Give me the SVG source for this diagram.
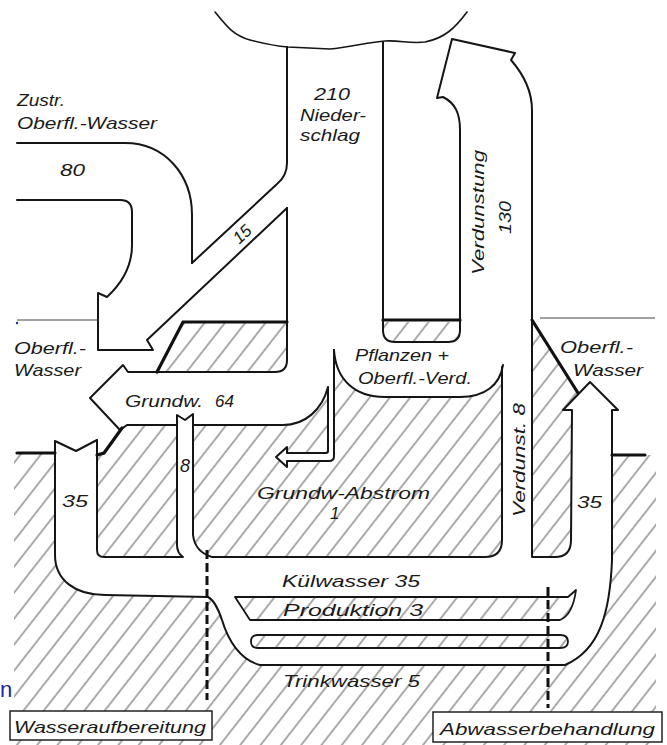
<svg xmlns="http://www.w3.org/2000/svg" width="667" height="745" viewBox="0 0 667 745">
<defs>
<pattern id="hatch" patternUnits="userSpaceOnUse" width="16" height="16" patternTransform="rotate(38)">
<line x1="8" y1="0" x2="8" y2="16" stroke="#555" stroke-width="1"/>
</pattern>
<style>
.o{fill:none;stroke:#151515;stroke-width:2;stroke-linejoin:round;stroke-linecap:round}
.thick{fill:none;stroke:#111;stroke-width:3.2;stroke-linecap:round}
.thin{fill:none;stroke:#444;stroke-width:1.1}
.w{fill:#fff;stroke:none}
.h{fill:url(#hatch)}
.dash{fill:none;stroke:#111;stroke-width:3;stroke-dasharray:9 4}
.t{font-family:"Liberation Sans",Arial,sans-serif;font-style:italic;font-size:17px;fill:#1a1a1a}
</style>
</defs>
<rect width="667" height="745" fill="#fff"/>

<g id="ground">
<path class="h" d="M14,453 L97,455 L104,453 L112,442 L122,428 L157,372 L183,322 L460,322 L532,320 L578,393 L590,382 L618,410 L612,410 L612,455 L656,455 L656,745 L14,745 Z"/>
</g>

<g id="flow-fills">
<path class="w" d="M287,300 L383,300 L383,330 Q383,342 395,342 L448,342 Q460,342 460,330 L460,300 L532,300 L532,557 L502,557 L502,367 C500,385 485,397 460,397 L385,397 C355,397 336,380 334,350 L334,387 L328,387 C322,410 305,425 283,425 L127,425 L120,430 L90,398 L123,365 L128,372 L275,372 Q287,372 287,360 Z"/>
<path class="w" d="M328,387 L334,387 L334,456 Q334,461 329,461 L287,461 L287,467 L276,457 L287,447 L287,453 L326,453 Q328,453 328,451 Z"/>
<path class="w" d="M177,415 L185,420 L193,414 L193,535 Q195,552 212,557 L183,557 Q177,553 177,545 Z"/>
<path class="w" d="M55,441 L76,451 L97,440 L97,550 Q97,557 104,557 L555,557 Q571,557 571,540 L572,410 L563,410 L590,382 L618,410 L612,410 L612,560 C610,612 600,650 565,665 L260,665 C240,660 228,640 222,620 C218,608 214,600 208,597 L105,595 C75,595 55,580 55,555 Z"/>
<path class="h" d="M235,597 L568,597 L576,590 C574,605 570,616 560,620 L250,620 Z"/>
<path class="h" d="M258,635 L560,635 Q568,635 568,641.5 Q568,648 560,648 L258,648 Q251,648 251,641.5 Q251,635 258,635 Z"/>
</g>

<g id="cloud">
<path class="o" style="stroke-width:1.6" d="M215,12 C225,24 232,35 250,40 C265,44 275,46 288,47 L330,49 C350,47 370,42 385,41 C400,40 410,44 425,42 C445,38 455,28 467,12"/>
</g>

<g id="flows">
<path class="o" d="M287,47 L287,163 Q287,176 277,184 L192,263"/>
<path class="o" d="M17,143 L125,143 C165,143 192,175 192,215 L192,263"/>
<path class="o" d="M17,200 L120,200 Q132,200 132,212 L132,245 C132,268 120,285 107,297 L98,293 L98,350 L153,350 L147,340 L287,208"/>
<path class="o" d="M287,208 L287,360 Q287,372 275,372 L128,372 L123,365 L90,398 L120,430 L127,425 L177,425"/>
<path class="o" d="M97,440 L97,550 Q97,557 104,557 L183,557 Q177,553 177,545 L177,415 L185,420 L193,414 L193,535 Q195,552 212,557 L485,557 Q502,557 502,540 L502,367"/>
<path class="o" d="M193,425 L283,425 C305,425 322,410 328,387 L328,451 Q328,453 326,453 L287,453 L287,447 L276,457 L287,467 L287,461 L329,461 Q334,461 334,456 L334,350"/>
<path class="o" d="M334,350 C336,380 355,397 385,397 L460,397 C485,397 500,385 503,365"/>
<path class="o" d="M383,42 L383,330 Q383,342 395,342 L448,342 Q460,342 460,330 L460,130 C460,113 455,103 443,97 L437,98 L452,39 L515,53 L511,60 C524,75 532,92 532,110 L532,557 L555,557 Q571,557 571,540 L572,410 L563,410 L590,382 L618,410 L612,410 L612,560 C610,612 600,650 565,665 L260,665 C240,660 228,640 222,620 C218,608 214,600 208,597 L105,595 C75,595 55,580 55,555 L55,441 L76,451 L97,440"/>
<path class="o" style="stroke-width:1.8" d="M235,597 L568,597 L576,590 C574,605 570,616 560,620 L250,620 Z"/>
<path class="o" style="stroke-width:1.8" d="M258,635 L560,635 Q568,635 568,641.5 Q568,648 560,648 L258,648 Q251,648 251,641.5 Q251,635 258,635 Z"/>
<path class="thick" d="M383,320 L460,320"/>
<path class="thick" d="M157,372 L183,322 L287,322"/>
<path class="thick" d="M532,320 L578,393"/>
<path class="thick" d="M17,453 L55,453"/>
<path class="thick" d="M97,455 L104,453 L112,442 L122,428"/>
<path class="thick" d="M612,455 L645,455"/>
<path class="thin" d="M17,320 L98,320"/>
<path class="thin" d="M540,318 L655,318"/>
</g>

<g id="connectors">
<path class="dash" d="M207,550 L207,700"/>
<path class="dash" d="M548,587 L548,708"/>
</g>

<g id="node-wasseraufbereitung">
<rect x="10" y="711" width="202" height="29" fill="#fff" stroke="#222" stroke-width="1.5"/>
<text class="t" x="14" y="733" textLength="192" lengthAdjust="spacingAndGlyphs">Wasseraufbereitung</text>
</g>
<g id="node-abwasserbehandlung">
<rect x="433" y="712" width="229" height="30" fill="#fff" stroke="#222" stroke-width="1.5"/>
<text class="t" x="440" y="735" textLength="215" lengthAdjust="spacingAndGlyphs">Abwasserbehandlung</text>
</g>

<g id="labels">
<text class="t" x="17" y="106" textLength="48" lengthAdjust="spacingAndGlyphs">Zustr.</text>
<text class="t" x="17" y="129" textLength="140" lengthAdjust="spacingAndGlyphs">Oberfl.-Wasser</text>
<text class="t" x="60" y="176" textLength="25" lengthAdjust="spacingAndGlyphs">80</text>
<text class="t" x="314" y="100" textLength="36" lengthAdjust="spacingAndGlyphs">210</text>
<text class="t" x="300" y="121" textLength="66" lengthAdjust="spacingAndGlyphs">Nieder-</text>
<text class="t" x="300" y="141" textLength="60" lengthAdjust="spacingAndGlyphs">schlag</text>
<text class="t" transform="translate(242,234) rotate(-43)" x="0" y="6" text-anchor="middle">15</text>
<text class="t" transform="translate(484,275) rotate(-90)" x="0" y="0" textLength="125" lengthAdjust="spacingAndGlyphs">Verdunstung</text>
<text class="t" transform="translate(511,234) rotate(-90)" x="0" y="0" textLength="33" lengthAdjust="spacingAndGlyphs">130</text>
<text class="t" x="14" y="354" textLength="72" lengthAdjust="spacingAndGlyphs">Oberfl.-</text>
<text class="t" x="14" y="376" textLength="67" lengthAdjust="spacingAndGlyphs">Wasser</text>
<text class="t" y="407"><tspan x="125" textLength="78" lengthAdjust="spacingAndGlyphs">Grundw.</tspan><tspan x="215">64</tspan></text>
<text class="t" x="355" y="361" textLength="94" lengthAdjust="spacingAndGlyphs">Pflanzen +</text>
<text class="t" x="358" y="384" textLength="114" lengthAdjust="spacingAndGlyphs">Oberfl.-Verd.</text>
<text class="t" x="560" y="353" textLength="73" lengthAdjust="spacingAndGlyphs">Oberfl.-</text>
<text class="t" x="573" y="376" textLength="70" lengthAdjust="spacingAndGlyphs">Wasser</text>
<text class="t" x="62" y="507" textLength="26" lengthAdjust="spacingAndGlyphs">35</text>
<text class="t" x="180" y="472" style="font-size:18px">8</text>
<text class="t" x="257" y="499" textLength="173" lengthAdjust="spacingAndGlyphs">Grundw-Abstrom</text>
<text class="t" x="330" y="519">1</text>
<text class="t" transform="translate(525,517) rotate(-90)" x="0" y="0" textLength="114" lengthAdjust="spacingAndGlyphs">Verdunst. 8</text>
<text class="t" x="577" y="508" textLength="25" lengthAdjust="spacingAndGlyphs">35</text>
<text class="t" x="282" y="587" textLength="138" lengthAdjust="spacingAndGlyphs">Külwasser 35</text>
<text class="t" x="283" y="616" textLength="140" lengthAdjust="spacingAndGlyphs">Produktion 3</text>
<text class="t" x="283" y="687" textLength="137" lengthAdjust="spacingAndGlyphs">Trinkwasser 5</text>
<text x="0" y="697" style="font-family:'Liberation Sans',Arial,sans-serif;font-size:22px;fill:#1c2a9c">n</text>
<circle cx="17" cy="323" r="1.2" fill="#1c2a9c"/>
</g>
</svg>
